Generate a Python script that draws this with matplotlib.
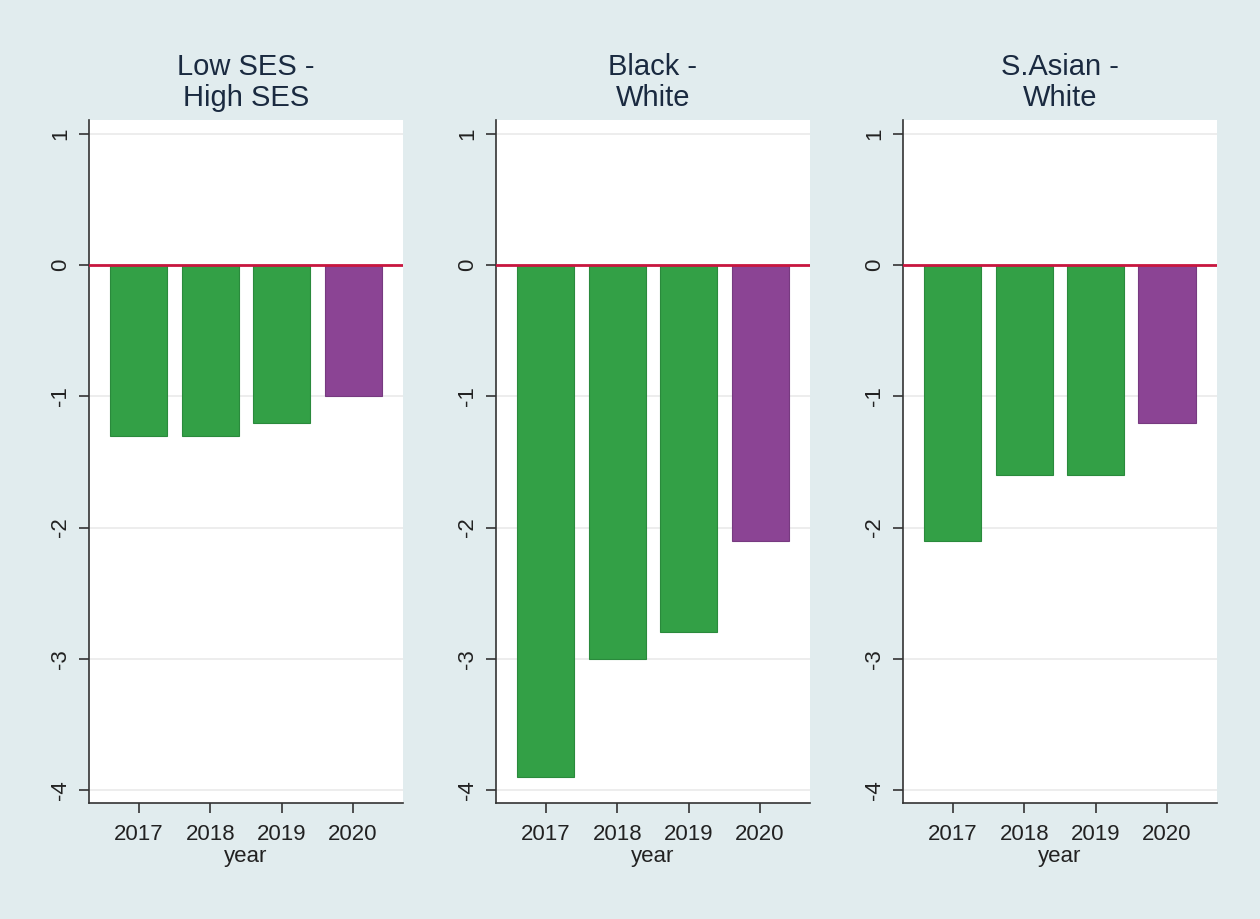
import matplotlib.pyplot as plt

plt.rcParams['font.family'] = ['Liberation Sans', 'DejaVu Sans']

years = [2017, 2018, 2019, 2020]
titles = ["Low SES -\nHigh SES", "Black -\nWhite", "S.Asian -\nWhite"]
gap_low_high_ses = [-1.3, -1.3, -1.2, -1.0]
gap_black_white = [-3.9, -3.0, -2.8, -2.1]
gap_sasian_white = [-2.1, -1.6, -1.6, -1.2]
panels = [gap_low_high_ses, gap_black_white, gap_sasian_white]
yticks = [1, 0, -1, -2, -3, -4]

bg = "#e1ecee"
green = "#33a046"
purple = "#8b4494"
bar_colors = [green, green, green, purple]
edge_colors = ["#2a8a3c", "#2a8a3c", "#2a8a3c", "#773a80"]

fig = plt.figure(figsize=(12.6, 9.19), dpi=100, facecolor=bg)
lefts = [89, 496, 903]
for i, (vals, title) in enumerate(zip(panels, titles)):
    ax = fig.add_axes([lefts[i] / 1260, 1 - 803 / 919, 314 / 1260, 683 / 919])
    ax.set_facecolor("white")
    ax.bar(years, vals, width=0.8, color=bar_colors, edgecolor=edge_colors,
           lw=0.8, zorder=2)
    ax.axhline(0, color="#c8163f", lw=2, zorder=3)
    ax.set_xlim(2016.3, 2020.7)
    ax.set_ylim(-4.1, 1.107)
    ax.set_yticks(yticks)
    ax.set_yticklabels([str(t) for t in yticks], rotation=90, va="center",
                       fontsize=16, color="#222222")
    ax.set_xticks(years)
    ax.set_xticklabels([str(y) for y in years], fontsize=16, color="#222222")
    ax.grid(axis="y", color="#eaeaea", lw=1.2, zorder=0)
    for s in ["top", "right"]:
        ax.spines[s].set_visible(False)
    for s in ["left", "bottom"]:
        ax.spines[s].set_color("#333333")
        ax.spines[s].set_linewidth(1.2)
    ax.tick_params(axis="both", length=7, color="#333333", width=1.2)
    ax.tick_params(axis="x", pad=8)
    ax.tick_params(axis="y", pad=6)
    ax.set_xlabel("year", fontsize=16, color="#222222", labelpad=1)
    ax.set_title(title, fontsize=21, color="#1a2a40", pad=10, linespacing=1.15)

fig.savefig("out.png", dpi=100, facecolor=bg)
